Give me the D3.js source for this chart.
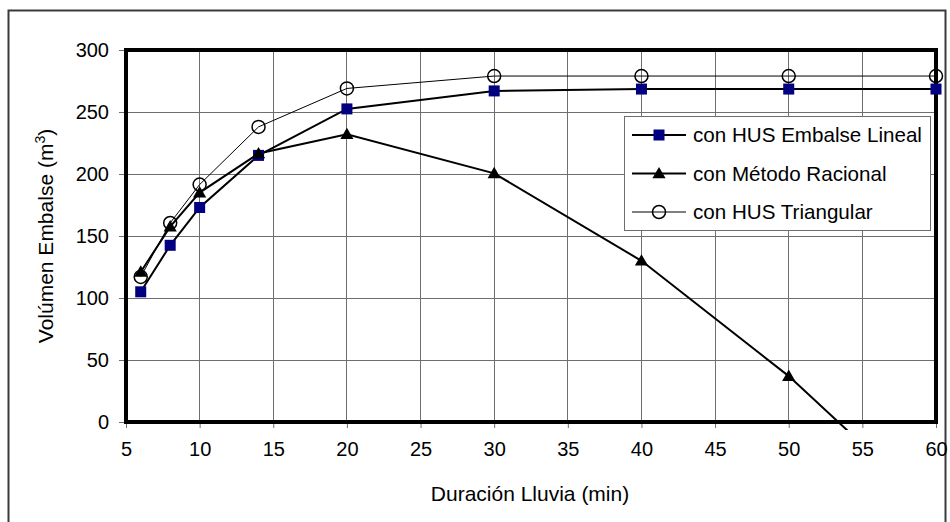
<!DOCTYPE html>
<html>
<head>
<meta charset="utf-8">
<script src="https://cdn.jsdelivr.net/npm/d3@7"></script>
<style>
  html, body { margin:0; padding:0; background:#fff; }
  svg { display:block; font-family:'Liberation Sans', Arial, sans-serif; }
</style>
</head>
<body>
<svg id="chart" width="950" height="522"></svg>
<script>
// Data
const durations = [6, 8, 10, 14, 20, 30, 40, 50, 60];
const husLineal = [105, 142.5, 173, 215, 252.5, 267, 268.5, 268.5, 268.5];
const racional = [121, 157.5, 185, 216.5, 232, 200.5, 130, 37, -73];
const husTriangular = [117, 160.5, 191.5, 238, 269, 279, 279, 279, 279];
const xTicks = [5, 10, 15, 20, 25, 30, 35, 40, 45, 50, 55, 60];
const yTicks = [0, 50, 100, 150, 200, 250, 300];
const seriesNames = ['con HUS Embalse Lineal', 'con Método Racional', 'con HUS Triangular'];

const svg = d3.select('#chart');
const margin = { top:50, left:126, right:950-936, bottom:522-422 };
const w = 950 - margin.left - margin.right;
const h = 522 - margin.top - margin.bottom;

// outer chart border
svg.append('rect').attr('x', 8.5).attr('y', 10.5).attr('width', 937).attr('height', 530)
  .attr('fill', '#fff').attr('stroke', '#3a3a3a').attr('stroke-width', 2);

const x = d3.scaleLinear().domain([5, 60]).range([0, w]);
const y = d3.scaleLinear().domain([0, 300]).range([h, 0]);

const g = svg.append('g').attr('transform', `translate(${margin.left},${margin.top})`);

// grid
g.append('g').selectAll('line').data(xTicks.slice(1, -1)).join('line')
  .attr('x1', d => x(d)).attr('x2', d => x(d)).attr('y1', 0).attr('y2', h)
  .attr('stroke', '#6e6e6e').attr('stroke-width', 1).attr('shape-rendering', 'crispEdges');
g.append('g').selectAll('line').data(yTicks.slice(1, -1)).join('line')
  .attr('x1', 0).attr('x2', w).attr('y1', d => y(d)).attr('y2', d => y(d))
  .attr('stroke', '#6e6e6e').attr('stroke-width', 1).attr('shape-rendering', 'crispEdges');

// axes
const ax = g.append('g').attr('transform', `translate(0,${h})`)
  .call(d3.axisBottom(x).tickValues(xTicks).tickSize(6).tickPadding(14));
const ay = g.append('g')
  .call(d3.axisLeft(y).tickValues(yTicks).tickSize(7).tickPadding(10));
[ax, ay].forEach(a => {
  a.select('.domain').remove();
  a.selectAll('line').attr('stroke', '#6e6e6e');
  a.selectAll('text').attr('font-size', 20).attr('fill', '#000')
    .attr('font-family', "'Liberation Sans', Arial, sans-serif");
});

// lines, clipped a bit below the plot area like the original
svg.append('defs').append('clipPath').attr('id', 'clip')
  .append('rect').attr('x', 0).attr('y', 0).attr('width', w).attr('height', h + 8);

const line = d3.line().x(d => x(d[0])).y(d => y(d[1]));
const series = [
  { vals: husLineal, width: 2 },
  { vals: racional, width: 2 },
  { vals: husTriangular, width: 1 }
];
const lines = g.append('g').attr('clip-path', 'url(#clip)');
series.forEach(s => {
  lines.append('path').datum(durations.map((d, i) => [d, s.vals[i]]))
    .attr('d', line).attr('fill', 'none').attr('stroke', '#000').attr('stroke-width', s.width);
});

// plot frame
g.append('rect').attr('x', 0).attr('y', 0).attr('width', w).attr('height', h)
  .attr('fill', 'none').attr('stroke', '#000').attr('stroke-width', 4);

// markers
const tri = d3.symbol().type(d3.symbolTriangle).size(75);
function drawSquare(sel, cx, cy) {
  sel.append('rect').attr('x', cx - 5.5).attr('y', cy - 5.5).attr('width', 11).attr('height', 11)
    .attr('fill', '#000080');
}
function drawTri(sel, cx, cy) {
  sel.append('path').attr('d', tri).attr('transform', `translate(${cx},${cy + 1})`).attr('fill', '#000');
}
function drawCircle(sel, cx, cy) {
  sel.append('circle').attr('cx', cx).attr('cy', cy).attr('r', 6.5)
    .attr('fill', 'none').attr('stroke', '#000').attr('stroke-width', 1.5);
}
const marks = g.append('g');
durations.forEach((d, i) => drawSquare(marks, x(d), y(husLineal[i])));
durations.forEach((d, i) => { if (racional[i] >= 0) drawTri(marks, x(d), y(racional[i])); });
durations.forEach((d, i) => drawCircle(marks, x(d), y(husTriangular[i])));

// axis titles
svg.append('text').attr('x', 530).attr('y', 501).attr('text-anchor', 'middle')
  .attr('font-size', 21).text('Duración Lluvia (min)');
const yt = svg.append('text').attr('transform', 'translate(53,236) rotate(-90)')
  .attr('text-anchor', 'middle').attr('font-size', 21);
yt.append('tspan').text('Volúmen Embalse (m');
yt.append('tspan').attr('font-size', 14).attr('dy', -8).text('3');
yt.append('tspan').attr('dy', 8).text(')');

// legend
const lg = svg.append('g').attr('transform', 'translate(624,116)');
lg.append('rect').attr('x', 0.5).attr('y', 0.5).attr('width', 306).attr('height', 114)
  .attr('fill', '#fff').attr('stroke', '#6e6e6e').attr('stroke-width', 1);
const drawers = [drawSquare, drawTri, drawCircle];
seriesNames.forEach((name, i) => {
  const yy = 19 + i * 38.5;
  lg.append('line').attr('x1', 8).attr('x2', 62).attr('y1', yy).attr('y2', yy)
    .attr('stroke', '#000').attr('stroke-width', series[i].width);
  drawers[i](lg, 35, yy);
  lg.append('text').attr('x', 69).attr('y', yy + 7).attr('font-size', 20.6).text(name);
});
</script>
</body>
</html>
